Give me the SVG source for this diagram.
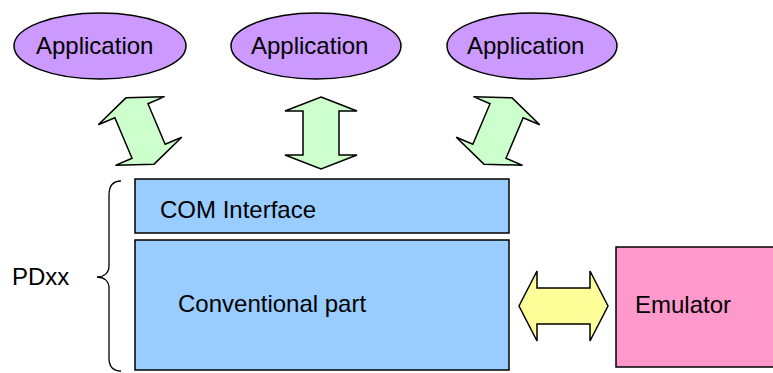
<svg xmlns="http://www.w3.org/2000/svg" xmlns:xlink="http://www.w3.org/1999/xlink" width="773" height="373" viewBox="0 0 773 373">
  <style>
    text { font-family: "Liberation Sans", Arial, sans-serif; font-size: 24px; fill: #000; }
    .app { fill: #CC99FF; stroke: #000; stroke-width: 1.5; }
    .box { fill: #99CCFF; stroke: #000; stroke-width: 1.5; }
    .emu { fill: #FF99CC; stroke: #000; stroke-width: 1.5; }
    .garrow { fill: #CCFFCC; stroke: #000; stroke-width: 1.5; stroke-linejoin: miter; }
    .yarrow { fill: #FFFF99; stroke: #000; stroke-width: 1.5; }
    .brace { fill: none; stroke: #000; stroke-width: 1.3; }
  </style>
  <defs>
    <path id="udarrow" d="M0,-36 L36,-22 L18,-22 L18,22 L36,22 L0,36 L-36,22 L-18,22 L-18,-22 L-36,-22 Z"/>
  </defs>
  <rect x="0" y="0" width="773" height="373" fill="#FFFFFF"/>

  <g id="app1">
    <ellipse class="app" cx="100" cy="46" rx="86" ry="33"/>
    <text x="36" y="54">Application</text>
  </g>
  <g id="app2">
    <ellipse class="app" cx="316" cy="46" rx="85" ry="33"/>
    <text x="251" y="54">Application</text>
  </g>
  <g id="app3">
    <ellipse class="app" cx="532" cy="46" rx="85" ry="33"/>
    <text x="467" y="54">Application</text>
  </g>

  <g id="com">
    <rect class="box" x="135" y="179" width="374" height="54"/>
    <text x="160" y="218">COM Interface</text>
  </g>
  <g id="conventional">
    <rect class="box" x="135" y="240" width="374" height="130"/>
    <text x="178" y="312">Conventional part</text>
  </g>
  <g id="emulator">
    <rect class="emu" x="616" y="247" width="170" height="120"/>
    <text x="635" y="313">Emulator</text>
  </g>
  <g id="pdxx">
    <path class="brace" d="M121,181 C113,181 109,186 109,195 L109,266 C109,273 104,277 97,277 C104,277 109,281 109,288 L109,358 C109,367 113,371 121,371"/>
    <text x="12" y="285">PDxx</text>
  </g>

  <g id="connectors">
    <use xlink:href="#udarrow" class="garrow" transform="translate(140,131) rotate(-23)"/>
    <use xlink:href="#udarrow" class="garrow" transform="translate(321,133)"/>
    <use xlink:href="#udarrow" class="garrow" transform="translate(498,131) rotate(23)"/>
    <path class="yarrow" d="M519,306 L537,271 L537,288 L590,288 L590,271 L608,306 L590,341 L590,324 L537,324 L537,341 Z"/>
  </g>
</svg>
